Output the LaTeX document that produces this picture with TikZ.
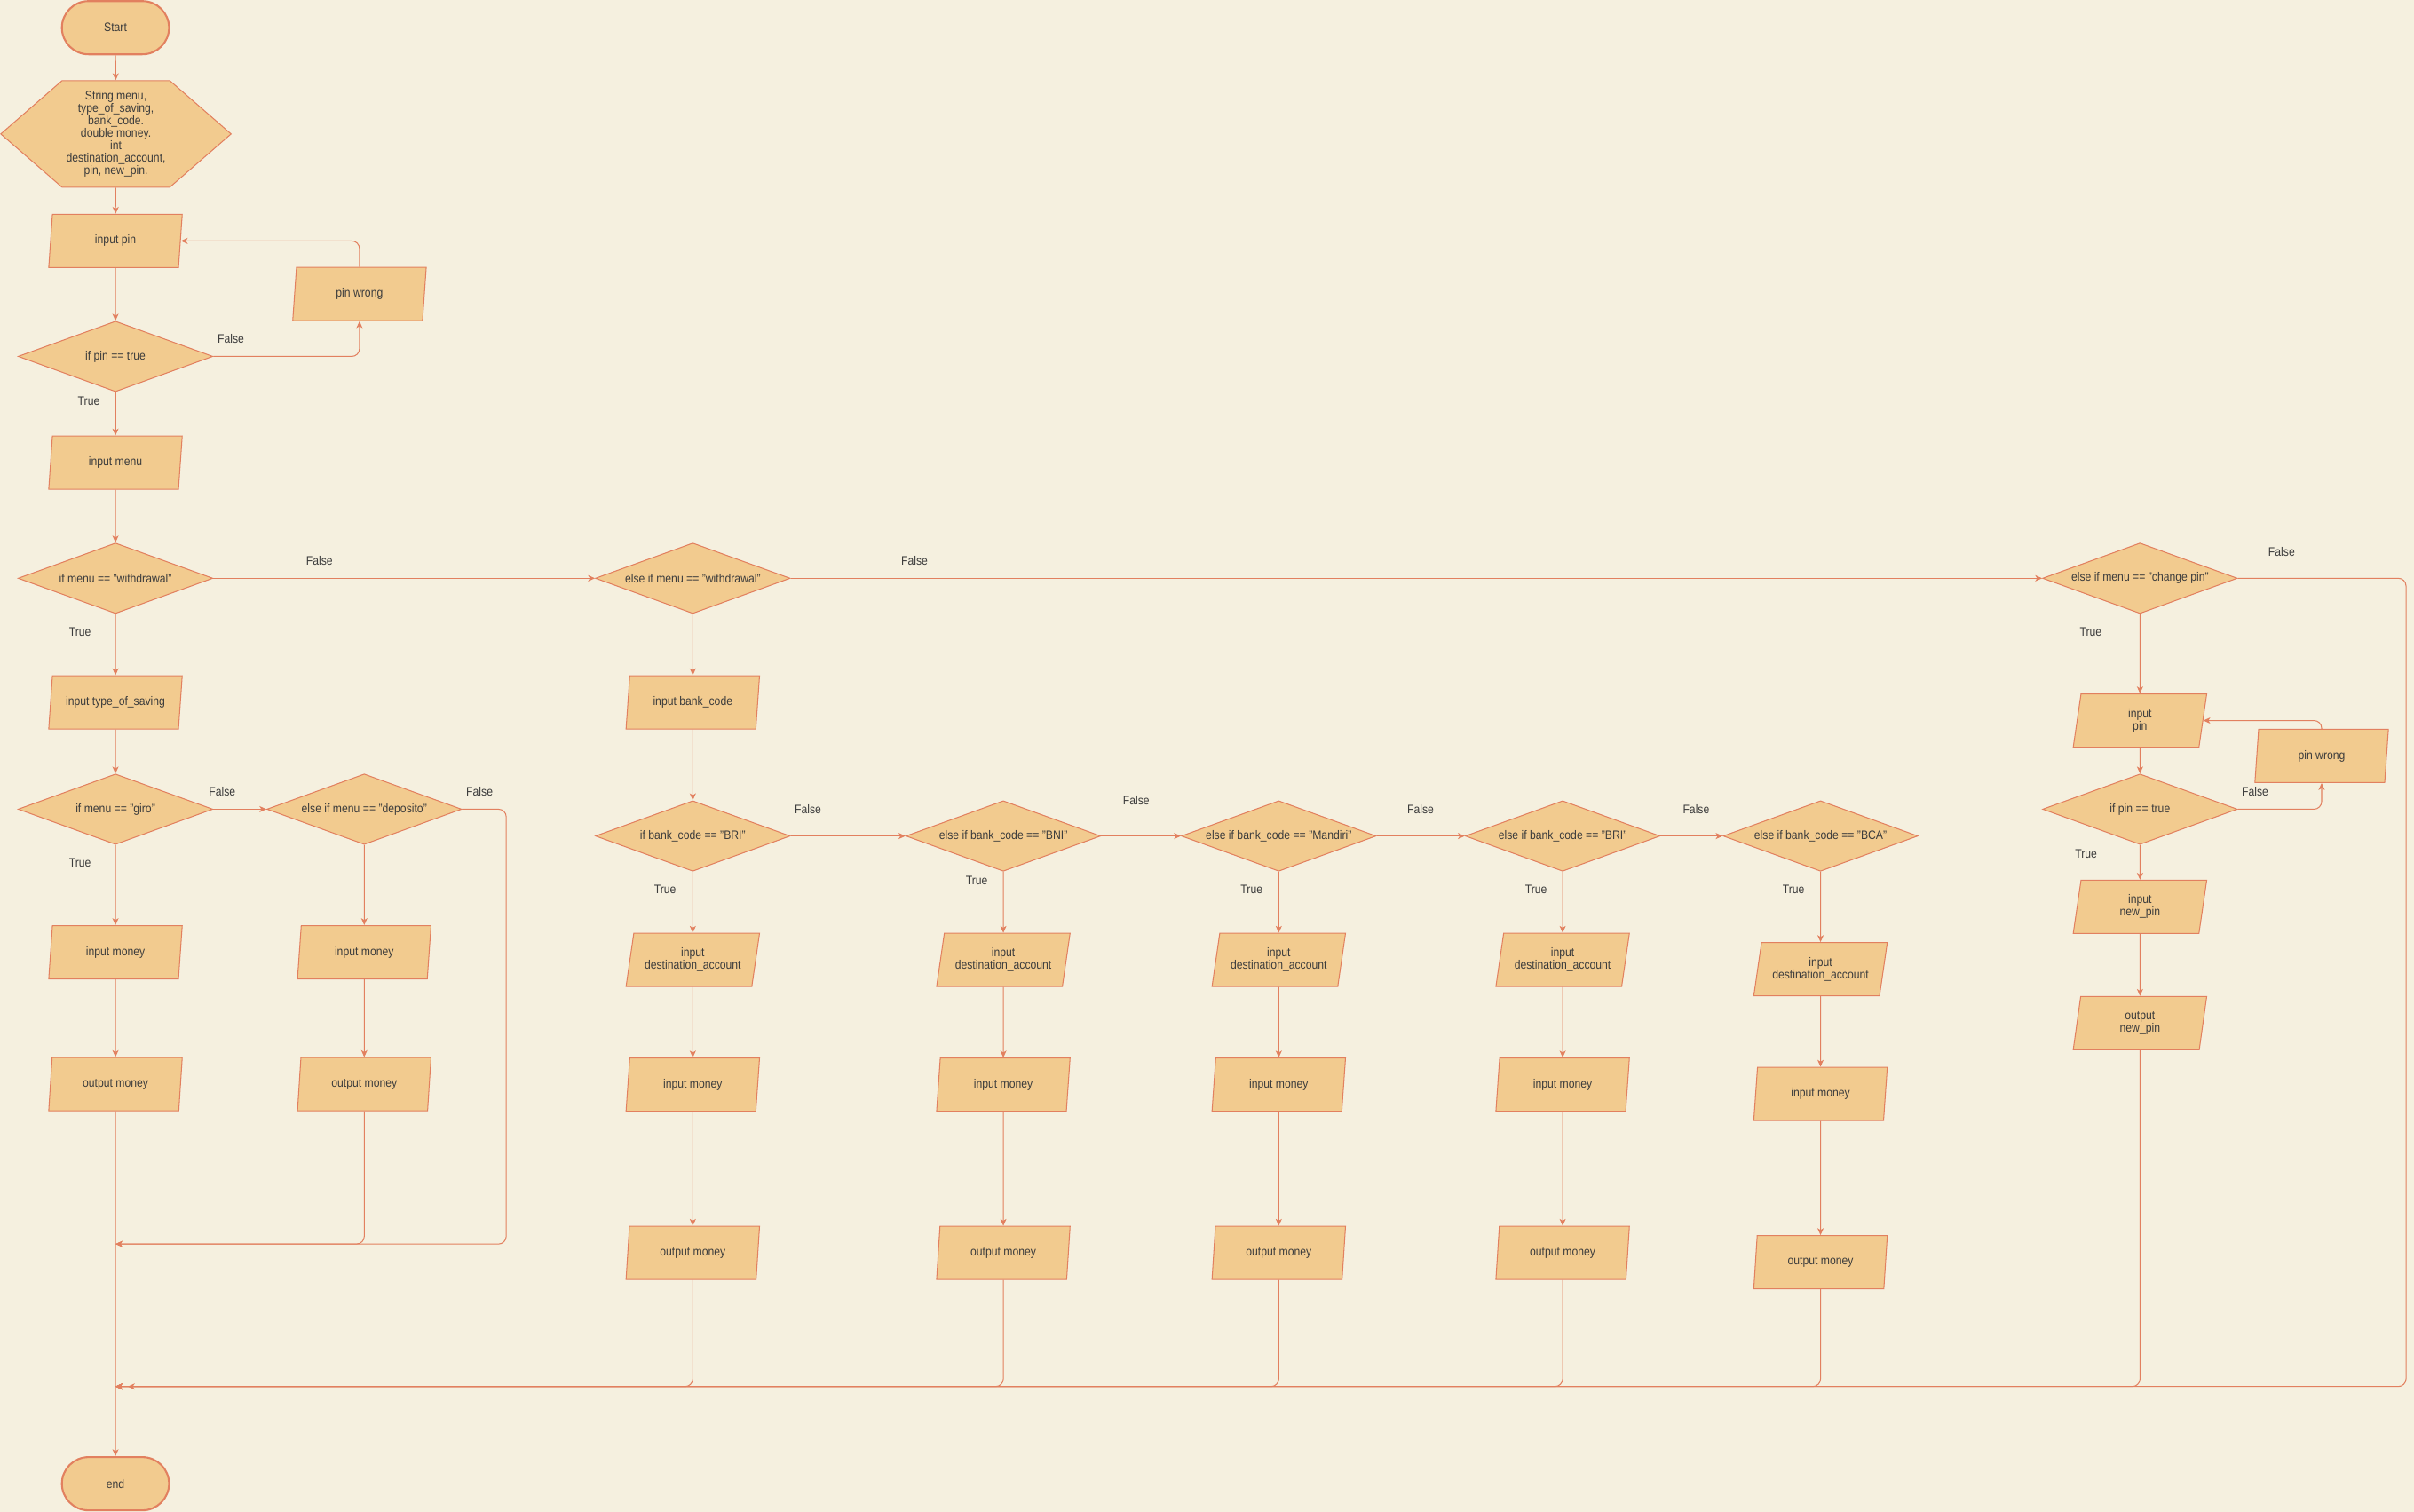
\documentclass[tikz,border=0pt]{standalone}
\usepackage{fontspec}
\setmainfont{Liberation Sans}[FakeStretch=0.88]
\usepackage{tikz}
\usetikzlibrary{shapes.geometric, shapes.misc, shapes.symbols, arrows.meta}
\definecolor{bgCream}{HTML}{F5F0DF}
\definecolor{boxFill}{HTML}{F2CB8F}
\definecolor{lineSalmon}{HTML}{E2805F}
\definecolor{txtGray}{HTML}{3C3C3C}

\begin{document}
\begin{tikzpicture}[x=1pt, y=-1pt, every node/.style={font=\fontsize{8}{8.1}\selectfont, text=txtGray},
    terminal/.style={rounded rectangle, draw=lineSalmon, line width=1.2pt, fill=boxFill, minimum width=69.6pt, minimum height=34.6pt, inner sep=0pt},
    decl/.style={signal, signal to=east and west, signal pointer angle=82, draw=lineSalmon, line width=0.6pt, fill=boxFill, minimum width=149.6pt, minimum height=69.2pt, inner sep=0pt, align=center},
    io/.style={trapezium, trapezium left angle=72, trapezium right angle=108, trapezium stretches body, draw=lineSalmon, line width=0.6pt, fill=boxFill, minimum width=86.7pt, minimum height=34.6pt, inner sep=0pt, align=center},
    dec/.style={diamond, aspect=2.76, draw=lineSalmon, line width=0.6pt, fill=boxFill, minimum width=126.5pt, minimum height=45.8pt, inner sep=0pt},
    flow/.style={draw=lineSalmon, line width=0.6pt, rounded corners=5pt, -{Stealth[length=4.5pt, width=4pt, inset=1.2pt]}},
    lbl/.style={inner sep=0pt}]
    \useasboundingbox(0,0)rectangle(1568,982);
    \fill[bgCream](0,0)rectangle(1568,982);

    \node[terminal](start)at(75,18){Start};
    \node[decl](decl)at(75.3,87){String menu,\\type\_of\_saving,\\bank\_code.\\double money.\\int\\destination\_account,\\pin, new\_pin.};
    \node[io](inpin)at(75,156.5){input pin};
    \node[io](pinwrong)at(233.5,191){pin wrong};
    \node[dec](ifpin)at(75,231.5){if pin == true};
    \node[io](inmenu)at(75,300.5){input menu};
    \node[dec](ifwd)at(75,375.6){if menu == "withdrawal"};
    \node[io](intype)at(75,456.2){input type\_of\_saving};
    \node[dec](ifgiro)at(75,525.6){if menu == "giro"};
    \node[dec](ifdep)at(236.6,525.6){else if menu == "deposito"};
    \node[io](inmoneyA)at(75,618.5){input money};
    \node[io](outmoneyA)at(75,704.2){output money};
    \node[io](inmoneyB)at(236.6,618.5){input money};
    \node[io](outmoneyB)at(236.6,704.2){output money};
    \node[terminal](stop)at(75,963.7){end};

    \node[dec](elwd)at(450,375.6){else if menu == "withdrawal"};
    \node[io](inbank)at(450,456.2){input bank\_code};
    \node[dec](ifbri)at(450,543){if bank\_code == "BRI"};
    \node[dec](elbni)at(651.7,543){else if bank\_code == "BNI"};
    \node[dec](elmandiri)at(830.6,543){else if bank\_code == "Mandiri"};
    \node[dec](elbri)at(1015,543){else if bank\_code == "BRI"};
    \node[dec](elbca)at(1182.5,543){else if bank\_code == "BCA"};

    \node[io](destA)at(450,623.5){input\\destination\_account};
    \node[io](moneyA)at(450,704.5){input money};
    \node[io](outA)at(450,813.8){output money};
    \node[io](destB)at(651.7,623.5){input\\destination\_account};
    \node[io](moneyB)at(651.7,704.5){input money};
    \node[io](outB)at(651.7,813.8){output money};
    \node[io](destC)at(830.6,623.5){input\\destination\_account};
    \node[io](moneyC)at(830.6,704.5){input money};
    \node[io](outC)at(830.6,813.8){output money};
    \node[io](destD)at(1015,623.5){input\\destination\_account};
    \node[io](moneyD)at(1015,704.5){input money};
    \node[io](outD)at(1015,813.8){output money};
    \node[io](destE)at(1182.5,629.5){input\\destination\_account};
    \node[io](moneyE)at(1182.5,710.5){input money};
    \node[io](outE)at(1182.5,819.8){output money};

    \node[dec](elpin)at(1390,375.6){else if menu == "change pin"};
    \node[io](inpinC)at(1390,468){input\\pin};
    \node[io](pinwrongC)at(1508,491){pin wrong};
    \node[dec](ifpinC)at(1390,525.6){if pin == true};
    \node[io](innewpin)at(1390,589){input\\new\_pin};
    \node[io](outnewpin)at(1390,664.5){output\\new\_pin};

    \coordinate(joinA)at(75,808);
    \coordinate(joinB)at(75,900.6);
    \coordinate(joinC)at(83,900.6);
    \coordinate(depturn)at(328.8,808);
    \coordinate(pinturn)at(1562.8,900.6);

    \draw[flow](start)--(decl);
    \draw[flow](decl)--(inpin);
    \draw[flow](inpin)--(ifpin);
    \draw[flow](ifpin.east)-|(pinwrong.south);
    \draw[flow](pinwrong.north)|-(inpin.east);
    \draw[flow](ifpin)--(inmenu);
    \draw[flow](inmenu)--(ifwd);
    \draw[flow](ifwd)--(elwd);
    \draw[flow](ifwd)--(intype);
    \draw[flow](intype)--(ifgiro);
    \draw[flow](ifgiro)--(ifdep);
    \draw[flow](ifgiro)--(inmoneyA);
    \draw[flow](inmoneyA)--(outmoneyA);
    \draw[flow](outmoneyA)--(stop);
    \draw[flow](ifdep)--(inmoneyB);
    \draw[flow](inmoneyB)--(outmoneyB);
    \draw[flow](outmoneyB.south)|-(joinA);
    \draw[flow](ifdep.east)-|(depturn)--(joinA);

    \draw[flow](elwd)--(elpin);
    \draw[flow](elwd)--(inbank);
    \draw[flow](inbank)--(ifbri);
    \draw[flow](ifbri)--(elbni);
    \draw[flow](elbni)--(elmandiri);
    \draw[flow](elmandiri)--(elbri);
    \draw[flow](elbri)--(elbca);
    \draw[flow](ifbri)--(destA);
    \draw[flow](destA)--(moneyA);
    \draw[flow](moneyA)--(outA);
    \draw[flow](outA.south)|-(joinB);
    \draw[flow](elbni)--(destB);
    \draw[flow](destB)--(moneyB);
    \draw[flow](moneyB)--(outB);
    \draw[flow](outB.south)|-(joinB);
    \draw[flow](elmandiri)--(destC);
    \draw[flow](destC)--(moneyC);
    \draw[flow](moneyC)--(outC);
    \draw[flow](outC.south)|-(joinB);
    \draw[flow](elbri)--(destD);
    \draw[flow](destD)--(moneyD);
    \draw[flow](moneyD)--(outD);
    \draw[flow](outD.south)|-(joinB);
    \draw[flow](elbca)--(destE);
    \draw[flow](destE)--(moneyE);
    \draw[flow](moneyE)--(outE);
    \draw[flow](outE.south)|-(joinB);

    \draw[flow](elpin)--(inpinC);
    \draw[flow](inpinC)--(ifpinC);
    \draw[flow](ifpinC.east)-|(pinwrongC.south);
    \draw[flow](pinwrongC.north)|-(inpinC.east);
    \draw[flow](ifpinC)--(innewpin);
    \draw[flow](innewpin)--(outnewpin);
    \draw[flow](outnewpin.south)|-(joinB);
    \draw[flow](elpin.east)-|(pinturn)--(joinC);

    \node[lbl](fpin)at(150,220){False};
    \node[lbl](tpin)at(57.7,260.6){True};
    \node[lbl](fwd)at(207.5,364.3){False};
    \node[lbl](twd)at(52,410.4){True};
    \node[lbl](fgiro)at(144.3,514.2){False};
    \node[lbl](tgiro)at(52,560.4){True};
    \node[lbl](fdep)at(311.5,514.2){False};
    \node[lbl](felwd)at(594,364.3){False};
    \node[lbl](fbri)at(524.8,525.8){False};
    \node[lbl](tbri)at(432,577.7){True};
    \node[lbl](fbni)at(738,520){False};
    \node[lbl](tbni)at(634.4,572){True};
    \node[lbl](fmandiri)at(922.7,525.8){False};
    \node[lbl](tmandiri)at(813,577.7){True};
    \node[lbl](fbri2)at(1101.7,525.8){False};
    \node[lbl](tbri2)at(997.7,577.7){True};
    \node[lbl](tbca)at(1165,577.7){True};
    \node[lbl](felpin)at(1482,358.5){False};
    \node[lbl](telpin)at(1358,410.4){True};
    \node[lbl](fpinC)at(1464.8,514.2){False};
    \node[lbl](tpinC)at(1355,554.6){True};
\end{tikzpicture}
\end{document}
